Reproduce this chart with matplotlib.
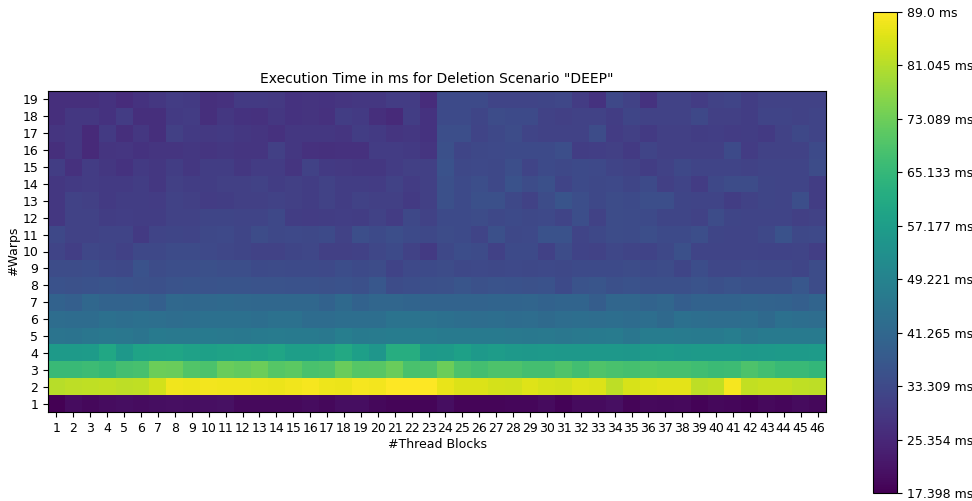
import numpy as np
import matplotlib
matplotlib.use("Agg")
import matplotlib.pyplot as plt

# execution time (ms) per warp count, one entry per thread block count 1..46
thread_blocks = list(range(1, 47))
warps = list(range(1, 20))

warp_01 = [17.3977, 19.8, 18.9, 19.7, 20.1, 19.8, 20.0, 20.3, 20.0, 20.2, 20.6, 19.3,
           19.2, 19.2, 19.3, 19.8, 18.9, 20.0, 20.0, 18.8, 18.5, 18.3, 18.4, 20.0,
           18.4, 18.3, 18.5, 18.6, 18.7, 19.6, 18.2, 19.4, 19.5, 20.2, 18.5,
           19.2, 19.0, 19.3, 18.2, 19.0, 18.6, 18.0, 19.1, 18.6, 19.6, 18.9]
warp_02 = [81.2, 82.0, 82.1, 82.3, 82.0, 82.2, 84.0, 87.6, 87.3, 87.8, 87.4, 87.6,
           87.2, 86.8, 87.6, 88.0, 87.3, 86.8, 88.0, 87.7, 89.0004, 88.8, 88.9, 86.6,
           85.3, 85.2, 84.3, 84.2, 85.6, 84.6, 84.3, 85.5, 85.1, 81.9, 84.6,
           85.5, 86.0, 86.2, 82.0, 82.5, 88.0, 82.3, 83.0, 83.1, 82.2, 82.0]
warp_03 = [66.0, 66.0, 66.5, 65.5, 67.5, 68.3, 73.0, 72.7, 69.5, 68.7, 72.5, 71.8,
           72.8, 70.0, 71.0, 68.5, 69.0, 72.5, 70.0, 70.5, 72.5, 68.5, 69.0, 72.8,
           68.7, 67.5, 69.0, 69.0, 67.5, 67.5, 69.2, 67.3, 69.2, 68.5, 68.0,
           68.5, 68.0, 68.0, 67.0, 66.3, 66.5, 69.0, 67.2, 65.8, 65.8, 64.8]
warp_04 = [56.5, 56.3, 56.8, 60.0, 55.5, 59.0, 59.2, 59.5, 58.5, 58.2, 58.6, 59.0,
           58.5, 59.5, 57.5, 57.5, 58.5, 60.7, 57.8, 55.0, 62.0, 62.0, 55.8, 56.5,
           58.0, 56.0, 57.0, 56.0, 55.5, 56.0, 55.5, 55.5, 55.5, 55.5, 55.3,
           56.5, 56.8, 56.0, 56.5, 56.5, 56.3, 55.7, 56.2, 56.5, 56.5, 56.6]
warp_05 = [45.0, 44.8, 45.5, 46.0, 45.7, 45.0, 46.5, 46.3, 46.3, 46.5, 46.4, 46.2,
           46.8, 47.2, 47.0, 46.5, 46.0, 48.0, 46.5, 47.3, 47.5, 47.6, 47.4, 47.0,
           46.8, 46.6, 46.8, 46.4, 46.0, 46.4, 45.9, 46.4, 46.8, 47.2, 45.6,
           47.5, 47.4, 47.3, 47.0, 46.9, 47.8, 45.8, 46.8, 46.9, 46.8, 46.7]
warp_06 = [43.0, 42.7, 42.7, 43.8, 43.3, 43.7, 43.6, 43.0, 43.4, 43.8, 43.7, 43.8,
           43.4, 44.0, 44.0, 42.7, 42.6, 43.3, 43.2, 43.3, 44.8, 44.8, 44.3, 43.8,
           43.2, 43.0, 43.3, 42.7, 43.0, 42.2, 42.9, 43.3, 43.0, 43.2, 42.8,
           43.3, 42.0, 43.7, 43.2, 43.1, 42.9, 43.2, 41.8, 43.9, 43.2, 43.0]
warp_07 = [40.0, 39.2, 41.3, 40.3, 40.2, 40.4, 39.0, 41.5, 41.4, 41.5, 42.0, 41.5,
           41.3, 41.3, 41.2, 41.4, 40.0, 41.8, 39.8, 41.0, 41.0, 40.4, 40.3, 40.2,
           40.2, 40.1, 40.5, 40.5, 40.8, 39.8, 40.5, 40.4, 38.4, 41.0, 41.0,
           40.3, 40.9, 38.8, 39.8, 39.8, 39.9, 40.4, 40.2, 39.8, 39.0, 40.4]
warp_08 = [35.3, 35.2, 35.4, 35.9, 35.3, 35.2, 34.8, 35.8, 35.9, 35.7, 36.0, 36.1,
           35.8, 35.7, 35.3, 35.5, 35.2, 35.3, 35.0, 36.8, 34.1, 34.7, 34.8, 35.2,
           36.3, 35.2, 35.8, 35.3, 35.2, 35.3, 33.6, 35.8, 36.2, 34.8, 35.3,
           34.8, 35.0, 34.8, 35.8, 34.9, 35.7, 34.8, 34.9, 34.8, 36.8, 34.1]
warp_09 = [34.1, 34.0, 34.2, 33.1, 33.0, 35.3, 34.1, 34.7, 34.6, 34.8, 34.7, 34.5,
           33.6, 33.7, 33.5, 33.6, 33.1, 34.3, 33.6, 34.0, 31.7, 33.1, 33.6, 34.0,
           33.0, 33.2, 32.9, 33.1, 33.0, 33.2, 33.0, 33.5, 33.6, 33.5, 34.0,
           33.4, 34.0, 32.5, 34.4, 32.6, 32.6, 33.1, 33.0, 33.0, 32.5, 34.0]
warp_10 = [32.0, 30.6, 32.6, 32.4, 31.2, 33.0, 32.9, 33.8, 33.7, 33.3, 32.6, 32.5,
           31.5, 31.6, 32.4, 32.6, 31.1, 31.0, 31.2, 32.6, 33.5, 31.4, 29.6, 33.0,
           34.2, 33.8, 31.2, 33.5, 33.4, 31.2, 34.0, 31.7, 31.6, 32.6, 32.0,
           31.8, 33.0, 34.8, 32.1, 32.0, 32.2, 32.0, 31.7, 31.8, 32.1, 30.8]
warp_11 = [33.0, 31.5, 31.6, 32.0, 32.1, 29.6, 32.0, 32.5, 32.0, 33.0, 33.1, 32.5,
           34.0, 33.0, 33.1, 32.9, 33.5, 31.5, 34.5, 33.5, 34.5, 33.5, 33.0, 34.0,
           33.5, 32.0, 35.0, 33.0, 33.1, 35.5, 35.4, 32.0, 33.0, 34.0, 33.8,
           34.5, 33.5, 33.6, 34.5, 32.5, 32.0, 32.1, 33.0, 35.5, 33.0, 33.1]
warp_12 = [29.0, 31.5, 31.4, 30.5, 30.6, 30.4, 30.5, 31.5, 31.6, 32.5, 32.4, 32.0,
           32.0, 33.0, 30.5, 30.0, 30.5, 30.6, 30.4, 31.5, 30.0, 33.0, 31.5, 33.5,
           33.5, 34.0, 33.0, 33.5, 33.0, 33.1, 32.0, 34.5, 31.5, 34.0, 33.8,
           33.5, 32.5, 32.5, 31.5, 34.0, 32.5, 32.0, 32.0, 32.1, 31.0, 31.5]
warp_13 = [29.0, 31.5, 31.0, 29.5, 30.5, 30.4, 30.0, 31.5, 31.0, 30.0, 30.5, 31.0,
           31.0, 31.5, 31.0, 30.5, 31.5, 30.5, 31.5, 31.0, 31.1, 29.5, 31.0, 35.0,
           33.5, 35.0, 35.0, 33.0, 31.5, 34.0, 36.0, 34.5, 33.0, 34.0, 33.5,
           34.5, 34.5, 32.5, 32.0, 32.0, 30.5, 31.5, 32.5, 32.0, 34.5, 30.5]
warp_14 = [29.0, 29.5, 30.0, 29.5, 29.6, 30.5, 29.0, 31.0, 30.5, 30.5, 31.0, 31.0,
           31.5, 30.5, 31.0, 30.5, 31.5, 30.5, 30.4, 30.0, 31.5, 30.0, 31.0, 35.0,
           33.5, 34.5, 33.0, 35.5, 34.0, 35.0, 32.0, 33.5, 33.0, 33.1, 32.5,
           33.5, 31.0, 32.0, 30.0, 33.0, 34.0, 34.0, 32.5, 32.0, 32.1, 30.5]
warp_15 = [30.5, 27.5, 30.0, 29.0, 28.0, 29.5, 29.0, 30.5, 29.0, 30.5, 30.4, 29.0,
           30.0, 30.1, 28.5, 31.5, 29.5, 29.4, 29.0, 29.1, 30.0, 31.0, 31.1, 35.5,
           33.0, 33.1, 33.0, 34.5, 32.0, 33.5, 33.0, 33.5, 33.1, 32.0, 31.5,
           30.5, 31.5, 33.0, 32.0, 32.1, 32.0, 31.5, 32.0, 32.1, 32.0, 34.0]
warp_16 = [27.0, 29.0, 26.0, 28.5, 28.6, 28.0, 28.5, 28.4, 29.0, 28.5, 29.0, 28.5,
           28.5, 31.0, 29.0, 27.5, 27.4, 27.5, 27.6, 30.0, 30.0, 29.5, 28.5, 35.0,
           32.5, 33.0, 33.1, 33.5, 33.4, 33.5, 34.5, 30.5, 30.6, 31.0, 29.5,
           32.0, 31.0, 31.1, 31.0, 30.9, 33.5, 30.0, 31.5, 31.6, 31.5, 33.5]
warp_17 = [28.5, 29.0, 26.0, 29.5, 27.0, 29.0, 27.0, 31.0, 29.5, 29.4, 29.5, 29.0,
           28.5, 27.5, 29.0, 29.1, 29.0, 28.5, 30.5, 29.5, 28.5, 29.0, 28.0, 34.5,
           34.5, 32.0, 33.0, 34.0, 32.0, 31.5, 31.6, 31.5, 34.0, 30.0, 31.0,
           29.5, 31.0, 31.1, 30.5, 30.6, 30.0, 30.5, 29.5, 31.5, 33.0, 32.0]
warp_18 = [27.0, 29.0, 29.1, 28.0, 30.0, 27.0, 27.1, 29.5, 30.0, 27.0, 29.0, 28.0,
           27.5, 29.0, 28.0, 28.1, 27.5, 30.5, 29.5, 27.0, 26.0, 30.5, 28.0, 33.5,
           33.5, 32.5, 34.0, 33.5, 33.6, 31.5, 31.0, 31.5, 31.6, 30.5, 32.3,
           31.5, 31.6, 31.4, 33.0, 31.0, 31.1, 30.5, 32.0, 32.1, 31.5, 32.0]
warp_19 = [27.0, 27.1, 27.0, 28.0, 26.5, 28.0, 29.0, 30.0, 29.5, 27.0, 27.5, 29.5,
           29.5, 29.4, 28.0, 28.1, 28.0, 28.5, 29.0, 29.1, 30.0, 30.1, 26.5, 33.5,
           33.5, 33.6, 32.0, 32.1, 32.0, 32.5, 32.6, 30.0, 28.0, 33.0, 31.5,
           28.0, 31.5, 31.6, 30.0, 31.5, 32.0, 30.5, 31.5, 31.6, 31.4, 31.5]

times = np.array([warp_01, warp_02, warp_03, warp_04, warp_05, warp_06, warp_07,
                  warp_08, warp_09, warp_10, warp_11, warp_12, warp_13, warp_14,
                  warp_15, warp_16, warp_17, warp_18, warp_19])
vmin, vmax = times.min(), times.max()

fig = plt.figure(figsize=(9.72, 5.01), dpi=100)
ax = fig.add_axes([48 / 972, 89 / 501, 778 / 972, 321 / 501])
im = ax.imshow(times, origin="lower", cmap="viridis", aspect="auto",
               vmin=vmin, vmax=vmax, interpolation="nearest")

ax.set_xticks(np.arange(len(thread_blocks)))
ax.set_xticklabels([str(t) for t in thread_blocks], fontsize=9)
ax.set_yticks(np.arange(len(warps)))
ax.set_yticklabels([str(w) for w in warps], fontsize=9)
ax.set_xlabel("#Thread Blocks", fontsize=9, labelpad=2)
ax.set_ylabel("#Warps", fontsize=9, labelpad=2)
ax.set_title('Execution Time in ms for Deletion Scenario "DEEP"', fontsize=10)

cax = fig.add_axes([873 / 972, 8 / 501, 24 / 972, 481 / 501])
cbar = fig.colorbar(im, cax=cax)
ticks = np.linspace(vmin, vmax, 10)
cbar.set_ticks(ticks)
cbar.set_ticklabels([f"{round(t, 3)} ms" for t in ticks])
cbar.ax.tick_params(labelsize=9)

fig.savefig("out.png", dpi=100)
